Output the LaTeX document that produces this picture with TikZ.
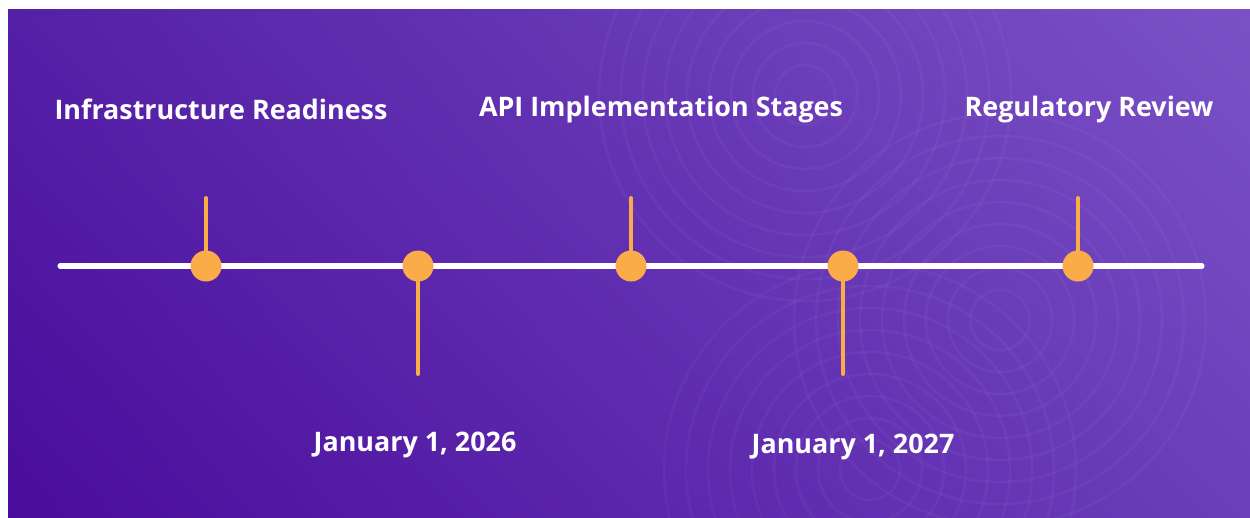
\documentclass[tikz,border=0pt]{standalone}
\usepackage{fontspec}
\setmainfont{Open Sans}
\usetikzlibrary{positioning,shadings}

\definecolor{bgtl}{HTML}{5420A6}
\definecolor{bgtr}{HTML}{7B52C6}
\definecolor{bgbl}{HTML}{4A0C9C}
\definecolor{bgbr}{HTML}{6B3EBA}
\definecolor{markorange}{HTML}{F9AC47}

\tikzset{
  axisline/.style={white,line width=2.9pt,line cap=round},
  stemline/.style={markorange,line width=2.3pt,line cap=round},
  dot/.style={circle,fill=markorange,inner sep=0pt,minimum size=6.2mm},
  caption/.style={text=white,font=\fontsize{15.3}{18}\selectfont\bfseries,inner sep=0pt}
}

\begin{document}
\begin{tikzpicture}[x=0.2mm,y=-0.2mm]
\useasboundingbox (0,0) rectangle (1250,517);

% Background panel
\shade[upper left=bgtl,upper right=bgtr,lower left=bgbl,lower right=bgbr] (8,9) rectangle (1250,517);

% Faint rings
\begin{scope}[white,opacity=0.035,line width=1.5pt]
\clip (8,9) rectangle (1250,517);
\foreach \r in {30,52,...,210} {
  \draw (805,95) circle (\r);
  \draw (1000,320) circle (\r);
  \draw (870,470) circle (\r);
}
\end{scope}

% Timeline
\coordinate (tl) at (60,266);
\coordinate (tr) at (1202,266);
\draw[axisline] (tl) -- (tr);

\foreach \i/\x/\y in {1/206/198,2/418/374,3/631/198,4/843/374,5/1078/198} {
  \coordinate (m\i) at (\x,266);
  \coordinate (s\i) at (\x,\y);
  \draw[stemline] (m\i) -- (s\i);
  \node[dot] (d\i) at (m\i) {};
}

% Milestone captions
\node[caption] (c1) at (221,109) {Infrastructure Readiness};
\node[caption] (c3) at (661,110) {API Implementation Stages};
\node[caption] (c5) at (1089,110) {Regulatory Review};
\node[caption] (c2) at (415,445) {January 1, 2026};
\node[caption] (c4) at (853,447) {January 1, 2027};
\end{tikzpicture}
\end{document}
